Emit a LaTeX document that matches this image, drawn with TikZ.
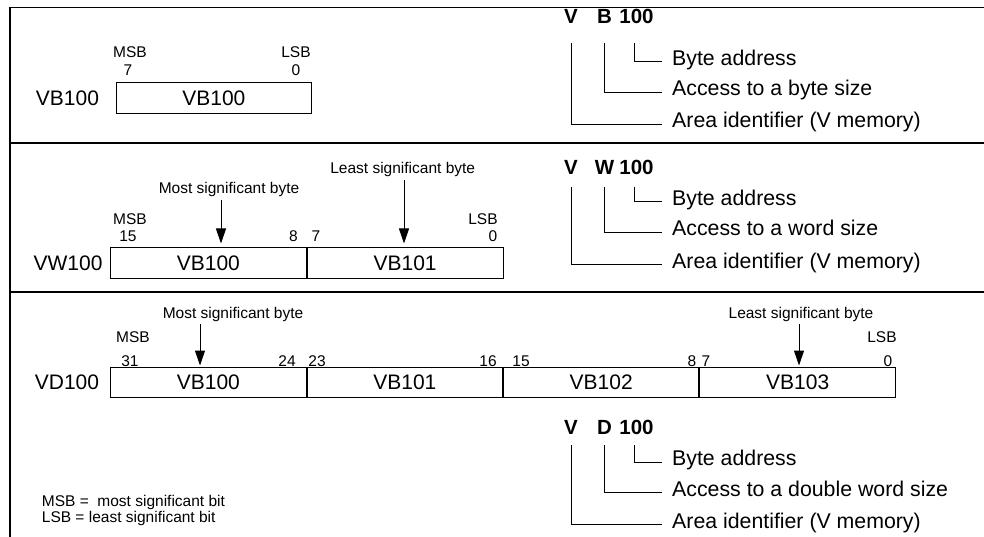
\documentclass[tikz,border=0pt]{standalone}
\usepackage{fontspec}
\setmainfont{Liberation Sans}
\usetikzlibrary{arrows.meta,calc}
\tikzset{
  big/.style={inner sep=0pt,font=\fontsize{21}{24}\selectfont},
  bigb/.style={inner sep=0pt,font=\fontsize{20.5}{24}\selectfont\bfseries},
  small/.style={inner sep=0pt,font=\fontsize{15.5}{18}\selectfont},
  desc/.style={inner sep=0pt,anchor=base west,font=\fontsize{21.3}{24}\selectfont},
  cell/.style={draw,line width=1pt,minimum height=30.5pt,inner sep=0pt,font=\fontsize{21}{24}\selectfont},
  frame/.style={line width=1.6pt},
  brk/.style={line width=1pt},
  arr/.style={line width=1pt,-{Triangle[width=10pt,length=15pt]}}
}
\newcommand\addrpanel[6]{%
  % #1 offset, #2 letter y, #3 line top y, #4 letter, #5 description, #6 suffix
  \node[bigb] (V#6) at (571,#2) {V};
  \node[bigb] (L#6) at (604.5,#2) {#4};
  \node[bigb] (N#6) at (636.5,#2) {100};
  \coordinate (top#6) at (0,#3);
  \node[desc] (da#6) at (672,{#1+65.5}) {Byte address};
  \node[desc] (db#6) at (672,{#1+96}) {#5};
  \node[desc] (dc#6) at (672,{#1+128}) {Area identifier (V memory)};
  \draw[brk] ([xshift=-2.5pt]N#6.center |- top#6) |- ([shift={(-10,-3.5)}]da#6.base west);
  \draw[brk] (L#6.center |- top#6) |- ([shift={(-10,-3.5)}]db#6.base west);
  \draw[brk] (V#6.center |- top#6) |- ([shift={(-10,-3.5)}]dc#6.base west);
}
\begin{document}
\begin{tikzpicture}[x=1pt,y=-1pt]
\useasboundingbox (0,0) rectangle (984,537);
% frame
\coordinate (f1) at (10,7.5);
\coordinate (f2) at (984,7.5);
\coordinate (f3) at (10,537);
\coordinate (s1a) at (10,143.3);
\coordinate (s1b) at (984,143.3);
\coordinate (s2a) at (10,291.7);
\coordinate (s2b) at (984,291.7);
\draw[frame] (f3) -- (f1) -- (f2);
\draw[frame] (s1a) -- (s1b);
\draw[frame] (s2a) -- (s2b);

% ---------- panel 1 ----------
\node[big] (lab1) at (67.5,98) {VB100};
\node[cell,minimum width=195.7pt] (c11) at (213.85,98) {VB100};
\node[small] (msb1) at (130,52) {MSB};
\node[small] (lsb1) at (296,52) {LSB};
\node[small] (b17) at (128,70) {7};
\node[small] (b10) at (296,70) {0};
\addrpanel{0}{16.7}{43}{B}{Access to a byte size}{1}

% ---------- panel 2 ----------
\node[big] (lab2) at (68,263) {VW100};
\node[cell,minimum width=195.3pt] (c21) at (208.35,263) {VB100};
\node[cell,minimum width=196.3pt,anchor=west] (c22) at (c21.east) {VB101};
\node[small] (msb2) at (130,219) {MSB};
\node[small] (lsb2) at (483,219) {LSB};
\node[small] (b215) at (128,236) {15};
\node[small] (b28) at (293.5,236) {8};
\node[small] (b27) at (316,236) {7};
\node[small] (b20) at (493,236) {0};
\node[small,anchor=base] (msby2) at (229,194) {Most significant byte};
\node[small,anchor=base] (lsby2) at (402.7,173.3) {Least significant byte};
\coordinate (tip21) at (221,243.5);
\coordinate (tip22) at (404,243.5);
\draw[arr] (tip21 |- msby2.south) ++(0,3) -- (tip21);
\draw[arr] (tip22 |- lsby2.south) ++(0,3) -- (tip22);
\addrpanel{140}{167}{186.7}{W}{Access to a word size}{2}

% ---------- panel 3 ----------
\node[big] (lab3) at (67,382.7) {VD100};
\node[cell,minimum width=195.3pt] (c31) at (208.35,382.7) {VB100};
\node[cell,minimum width=195.7pt,anchor=west] (c32) at (c31.east) {VB101};
\node[cell,minimum width=195pt,anchor=west] (c33) at (c32.east) {VB102};
\node[cell,minimum width=196pt,anchor=west] (c34) at (c33.east) {VB103};
\node[small] (msb3) at (133,337) {MSB};
\node[small] (lsb3) at (882,337) {LSB};
\node[small] (b331) at (130,361.5) {31};
\node[small] (b324) at (287,361.5) {24};
\node[small] (b323) at (317,361.5) {23};
\node[small] (b316) at (488,361.5) {16};
\node[small] (b315) at (521,361.5) {15};
\node[small] (b38) at (692,361.5) {8};
\node[small] (b37) at (706,361.5) {7};
\node[small] (b30) at (888,361.5) {0};
\node[small,anchor=base] (msby3) at (233,318.5) {Most significant byte};
\node[small,anchor=base] (lsby3) at (801,318.5) {Least significant byte};
\coordinate (tip31) at (200,365.5);
\coordinate (tip32) at (799,365.5);
\draw[arr] (tip31 |- msby3.south) ++(0,2) -- (tip31);
\draw[arr] (tip32 |- lsby3.south) ++(0,2) -- (tip32);
\addrpanel{400}{427.5}{445}{D}{Access to a double word size}{3}

% notes
\node[inner sep=0pt,anchor=north west,align=left,font=\fontsize{15.5}{13.3}\selectfont] (notes) at (41.7,495.3) {MSB = \ most significant bit\\LSB = least significant bit};
\end{tikzpicture}
\end{document}
